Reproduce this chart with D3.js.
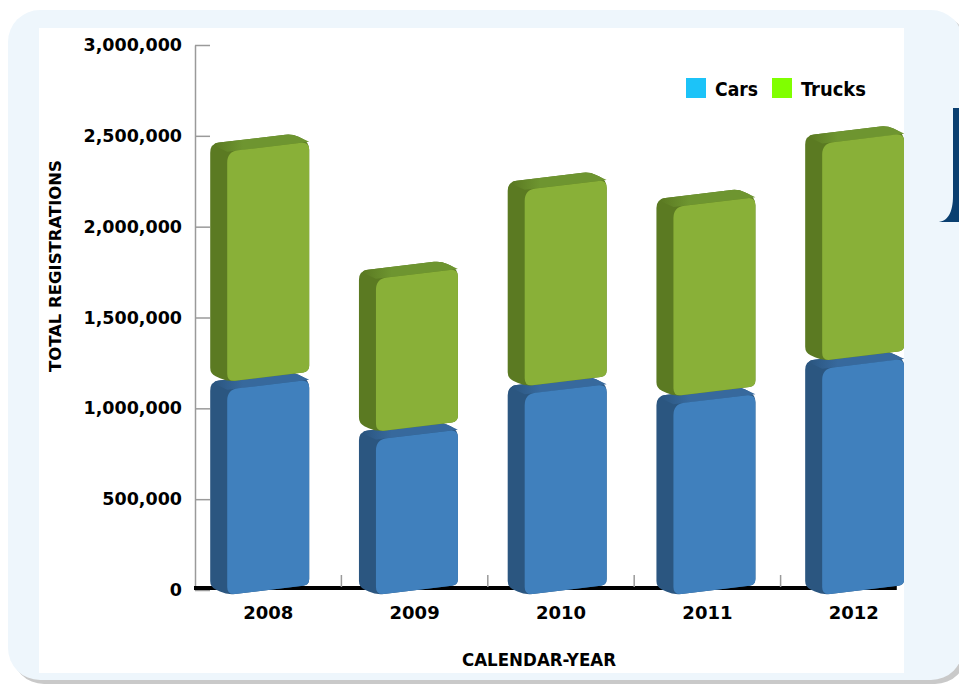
<!DOCTYPE html>
<html>
<head>
<meta charset="utf-8">
<script src="https://cdnjs.cloudflare.com/ajax/libs/d3/7.8.5/d3.min.js"></script>
<style>
body { margin: 0; background: #fff; }
svg { display: block; }
</style>
</head>
<body>
<svg id="chart" width="959" height="684"></svg>
<script>
// values
var years = ["2008", "2009", "2010", "2011", "2012"];
var cars = [1130000, 855000, 1105000, 1050000, 1245000];
var trucks = [1310000, 885000, 1125000, 1085000, 1240000];
var yTicks = [0, 500000, 1000000, 1500000, 2000000, 2500000, 3000000];
var seriesNames = ["Cars", "Trucks"];
var legendColors = ["#1cc3f8", "#80ff00"];

// front / side / top face colours of the 3d boxes
var faceColors = [
    {front: "#4080bd", side: "#2b5680", top: "#37699d"},
    {front: "#89b038", side: "#5b7a22", top: "#6e9530"}
];

var table = years.map(function (y, i) {
    return {year: y, Cars: cars[i], Trucks: trucks[i]};
});
var stacked = d3.stack().keys(seriesNames)(table);

var svg = d3.select("#chart");

// ---- background panel
svg.append("rect")
    .attr("x", 12).attr("y", 14)
    .attr("width", 955).attr("height", 670)
    .attr("rx", 32)
    .style("fill", "#c9c9c9");
svg.append("rect")
    .attr("x", 8).attr("y", 10)
    .attr("width", 955).attr("height", 670)
    .attr("rx", 32)
    .style("fill", "#eef6fc");
svg.append("path")
    .attr("d", "M953,108H959V222H937C948,222 953,212 953,196Z")
    .style("fill", "#0a3f70");
svg.append("rect")
    .attr("x", 39).attr("y", 28)
    .attr("width", 865).attr("height", 645)
    .style("fill", "#fff");

svg.append("clipPath").attr("id", "plotclip")
    .append("rect")
    .attr("x", 39).attr("y", 28)
    .attr("width", 865).attr("height", 645);

// gradients for the top faces (side colour blends into top colour)
var defs = svg.append("defs");
faceColors.forEach(function (c, i) {
    var g = defs.append("linearGradient").attr("id", "topgrad" + i)
        .attr("x1", 0).attr("y1", 0).attr("x2", 1).attr("y2", 0);
    g.append("stop").attr("offset", 0).attr("stop-color", c.side);
    g.append("stop").attr("offset", 0.3).attr("stop-color", c.top);
    g.append("stop").attr("offset", 1).attr("stop-color", c.top);
});

// ---- scales
var x = d3.scaleBand()
    .domain(years)
    .range([195, 927])
    .paddingInner(0.44)
    .paddingOuter(0.22);

var y = d3.scaleLinear()
    .domain([0, 3000000])
    .range([590, 45]);

var depthX = -17, depthY = -8, slope = -0.12;

// polygon with rounded corners, one radius per vertex
function roundPoly(pts, radii) {
    var n = pts.length, p = "";
    for (var i = 0; i < n; i++) {
        var a = pts[(i - 1 + n) % n], b = pts[i], c = pts[(i + 1) % n];
        var l1 = Math.hypot(b[0] - a[0], b[1] - a[1]);
        var l2 = Math.hypot(c[0] - b[0], c[1] - b[1]);
        var r1 = Math.min(radii[i], l1 / 2), r2 = Math.min(radii[i], l2 / 2);
        var p1 = [b[0] + (a[0] - b[0]) * r1 / l1, b[1] + (a[1] - b[1]) * r1 / l1];
        var p2 = [b[0] + (c[0] - b[0]) * r2 / l2, b[1] + (c[1] - b[1]) * r2 / l2];
        p += (i === 0 ? "M" : "L") + p1[0] + "," + p1[1] +
            "Q" + b[0] + "," + b[1] + " " + p2[0] + "," + p2[1];
    }
    return p + "Z";
}

// ---- y axis
svg.append("g")
    .attr("class", "yaxis")
    .attr("transform", "translate(195,0)")
    .call(d3.axisLeft(y).tickValues(yTicks).tickFormat(d3.format(","))
        .tickSizeInner(-15).tickSizeOuter(0).tickPadding(13))
    .call(function (g) {
        g.selectAll("line, path").style("stroke", "#9a9a9a").style("stroke-width", 1.5);
        g.selectAll("text")
            .style("font-family", "DejaVu Sans")
            .style("font-weight", "bold")
            .style("font-size", "17.5px")
            .style("fill", "#000");
    });

// ---- x axis (thick base line, separators, labels)
var xEnd = x(years[years.length - 1]) + x.bandwidth() + 2;
svg.append("line")
    .attr("x1", 194).attr("x2", xEnd)
    .attr("y1", y(0) - 2).attr("y2", y(0) - 2)
    .style("stroke", "#000").style("stroke-width", 4);

svg.selectAll(".sep")
    .data(years.slice(1))
    .enter().append("line")
    .attr("class", "sep")
    .attr("x1", function (d) { return x(d) - x.step() * x.paddingInner() / 2; })
    .attr("x2", function (d) { return x(d) - x.step() * x.paddingInner() / 2; })
    .attr("y1", y(0) - 15).attr("y2", y(0) - 3)
    .style("stroke", "#9a9a9a").style("stroke-width", 1.5);

svg.append("g")
    .attr("transform", "translate(0," + (y(0) + 2) + ")")
    .call(d3.axisBottom(x).tickSize(0).tickPadding(14))
    .call(function (g) {
        g.select(".domain").remove();
        g.selectAll("text")
            .style("font-family", "DejaVu Sans")
            .style("font-weight", "bold")
            .style("font-size", "18px")
            .style("fill", "#000");
    });

// ---- bars
var plot = svg.append("g").attr("clip-path", "url(#plotclip)");

stacked.forEach(function (layer, si) {
    var col = faceColors[si];
    layer.forEach(function (seg, i) {
        var year = years[i];
        var shift = (x(year) - x(years[0])) * 0.016;
        var x0 = x(year) + shift, x1 = x0 + x.bandwidth();
        var cx = (x0 + x1) / 2;
        var yTop = y(seg[1]);
        var yBot = si === 0 ? y(seg[0]) : y(seg[0]) + depthY;
        function at(px, py) { return [px, py + slope * (px - cx)]; }
        var fTL = at(x0, yTop), fTR = at(x1, yTop), fBR = at(x1, yBot), fBL = at(x0, yBot);
        function back(p) { return [p[0] + depthX, p[1] + depthY]; }
        var bTL = back(fTL), bTR = back(fTR), bBL = back(fBL);

        var g = plot.append("g").attr("class", "bar " + seriesNames[si]);
        g.append("path")
            .attr("d", roundPoly([bTL, bTR, fTR, fBR, fBL, bBL], [9, 7, 8, 6, 8, 6]))
            .style("fill", col.side);
        g.append("path")
            .attr("d", roundPoly([fTL, bTL, bTR, fTR], [0, 9, 7, 0]))
            .style("fill", "url(#topgrad" + si + ")");
        g.append("path")
            .attr("d", roundPoly([fTL, fTR, fBR, fBL], [11, 8, 6, 8]))
            .style("fill", col.front);
    });
});

// ---- axis titles
svg.append("text")
    .attr("transform", "translate(61,266) rotate(-90)")
    .attr("text-anchor", "middle")
    .attr("textLength", 212)
    .attr("lengthAdjust", "spacingAndGlyphs")
    .style("font-family", "DejaVu Sans Condensed")
    .style("font-weight", "bold")
    .style("font-size", "15px")
    .text("TOTAL REGISTRATIONS");

svg.append("text")
    .attr("x", 539).attr("y", 666)
    .attr("text-anchor", "middle")
    .attr("textLength", 154)
    .attr("lengthAdjust", "spacingAndGlyphs")
    .style("font-family", "DejaVu Sans Condensed")
    .style("font-weight", "bold")
    .style("font-size", "17px")
    .text("CALENDAR-YEAR");

// ---- legend
var legendX = [686, 772], legendW = [43, 65];
var legend = svg.selectAll(".legend")
    .data(seriesNames)
    .enter().append("g")
    .attr("class", "legend")
    .attr("transform", function (d, i) { return "translate(" + legendX[i] + ",78)"; });

legend.append("rect")
    .attr("width", 20).attr("height", 20)
    .style("fill", function (d, i) { return legendColors[i]; });

legend.append("text")
    .attr("x", 29).attr("y", 18)
    .attr("textLength", function (d, i) { return legendW[i]; })
    .attr("lengthAdjust", "spacingAndGlyphs")
    .style("font-family", "DejaVu Sans Condensed")
    .style("font-weight", "bold")
    .style("font-size", "20px")
    .text(function (d) { return d; });
</script>
</body>
</html>
